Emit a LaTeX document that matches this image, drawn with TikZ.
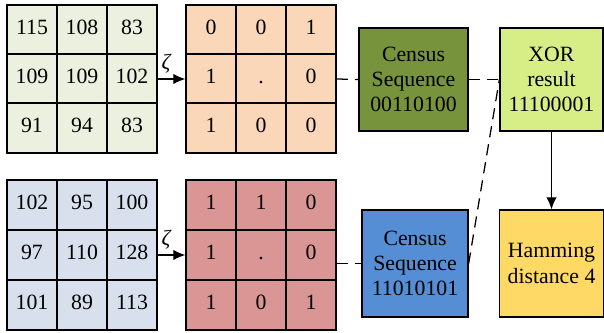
\documentclass[tikz,border=0pt]{standalone}
\usepackage{fontspec}
\setmainfont{Liberation Serif}
\usetikzlibrary{arrows.meta}

\definecolor{pixgreen}{RGB}{235,241,222}
\definecolor{pixblue}{RGB}{215,224,236}
\definecolor{bitpeach}{RGB}{251,215,185}
\definecolor{bitred}{RGB}{217,150,148}
\definecolor{censusgreen}{RGB}{119,147,60}
\definecolor{censusblue}{RGB}{85,142,213}
\definecolor{xorgreen}{RGB}{215,238,135}
\definecolor{hamyellow}{RGB}{255,217,102}

\begin{document}
\begin{tikzpicture}[x=0.025cm,y=-0.025cm,
  line width=0.9pt,font=\fontsize{15.5}{18}\selectfont,
  cell/.style={rectangle,draw,minimum size=1.25cm,inner sep=0pt,
    text height=1.6ex,text depth=0.1ex},
  box/.style={rectangle,draw,align=center,inner sep=0pt},
  flow/.style={-{Latex[length=3mm,width=2.6mm]}},
  link/.style={dash pattern=on 8pt off 5pt}]

  \useasboundingbox (0,0) rectangle (604,333);

  % left image window
  \node[cell,fill=pixgreen] (p11) at (32,30) {115};
  \node[cell,fill=pixgreen] (p12) at (82,30) {108};
  \node[cell,fill=pixgreen] (p13) at (132,30) {83};
  \node[cell,fill=pixgreen] (p21) at (32,79) {109};
  \node[cell,fill=pixgreen] (p22) at (82,79) {109};
  \node[cell,fill=pixgreen] (p23) at (132,79) {102};
  \node[cell,fill=pixgreen] (p31) at (32,128) {91};
  \node[cell,fill=pixgreen] (p32) at (82,128) {94};
  \node[cell,fill=pixgreen] (p33) at (132,128) {83};

  \node[cell,fill=bitpeach] (b11) at (211,30) {0};
  \node[cell,fill=bitpeach] (b12) at (261,30) {0};
  \node[cell,fill=bitpeach] (b13) at (311,30) {1};
  \node[cell,fill=bitpeach] (b21) at (211,79) {1};
  \node[cell,fill=bitpeach] (b22) at (261,79) {.};
  \node[cell,fill=bitpeach] (b23) at (311,79) {0};
  \node[cell,fill=bitpeach] (b31) at (211,128) {1};
  \node[cell,fill=bitpeach] (b32) at (261,128) {0};
  \node[cell,fill=bitpeach] (b33) at (311,128) {0};

  % right image window
  \node[cell,fill=pixblue] (q11) at (32,205) {102};
  \node[cell,fill=pixblue] (q12) at (82,205) {95};
  \node[cell,fill=pixblue] (q13) at (132,205) {100};
  \node[cell,fill=pixblue] (q21) at (32,255) {97};
  \node[cell,fill=pixblue] (q22) at (82,255) {110};
  \node[cell,fill=pixblue] (q23) at (132,255) {128};
  \node[cell,fill=pixblue] (q31) at (32,305) {101};
  \node[cell,fill=pixblue] (q32) at (82,305) {89};
  \node[cell,fill=pixblue] (q33) at (132,305) {113};

  \node[cell,fill=bitred] (d11) at (211,205) {1};
  \node[cell,fill=bitred] (d12) at (261,205) {1};
  \node[cell,fill=bitred] (d13) at (311,205) {0};
  \node[cell,fill=bitred] (d21) at (211,255) {1};
  \node[cell,fill=bitred] (d22) at (261,255) {.};
  \node[cell,fill=bitred] (d23) at (311,255) {0};
  \node[cell,fill=bitred] (d31) at (211,305) {1};
  \node[cell,fill=bitred] (d32) at (261,305) {0};
  \node[cell,fill=bitred] (d33) at (311,305) {1};

  \node[box,fill=censusgreen,minimum width=2.725cm,minimum height=2.575cm]
    (cs1) at (413.5,79.5) {Census\\Sequence\\00110100};
  \node[box,fill=censusblue,minimum width=2.65cm,minimum height=2.675cm]
    (cs2) at (415,263.5) {Census\\Sequence\\11010101};
  \node[box,fill=xorgreen,minimum width=2.575cm,minimum height=2.575cm]
    (xor) at (551.5,79.5) {XOR\\result\\11100001};
  \node[box,fill=hamyellow,minimum width=2.6cm,minimum height=2.675cm]
    (ham) at (551.5,263.5) {Hamming\\distance 4};

  \draw[flow] (p23.east) -- node[above,pos=0.3]{\itshape ζ} (b21.west);
  \draw[flow] (q23.east) -- node[above,pos=0.3]{\itshape ζ} (d21.west);

  \draw[link] (b23.east) -- (cs1.west);
  \draw[link] (cs1.east) -- (xor.west);
  \draw[link] (d23.east |- cs2.west) -- (cs2.west);
  \draw[link] (cs2.east) -- (xor.west);
  \draw[flow] (xor) -- (ham);
\end{tikzpicture}
\end{document}
